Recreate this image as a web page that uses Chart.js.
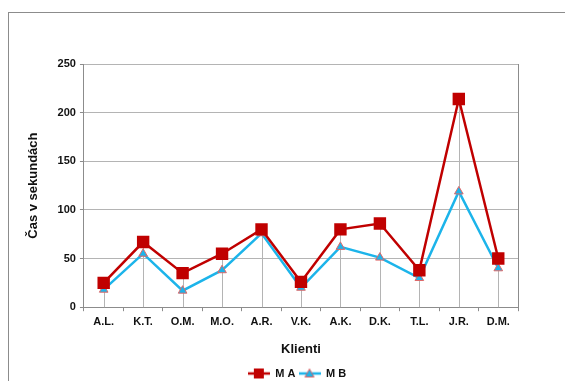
<!DOCTYPE html>
<html>
<head>
<meta charset="utf-8">
<script src="https://cdn.jsdelivr.net/npm/chart.js@4/dist/chart.umd.min.js"></script>
<style>
  html, body { margin: 0; padding: 0; background: #fff; }
  #wrap { position: relative; width: 565px; height: 381px; }
  #frame { position: absolute; left: 8px; top: 12px; width: 600px; height: 400px;
           border-left: 1px solid #8c8c8c; border-top: 1px solid #8c8c8c; }
  canvas { position: absolute; left: 0; top: 0; }
</style>
</head>
<body>
<div id="wrap">
  <div id="frame"></div>
  <canvas id="chart_times" width="565" height="381"></canvas>
</div>
<script>
var klienti = ['A.L.', 'K.T.', 'O.M.', 'M.O.', 'A.R.', 'V.K.', 'A.K.', 'D.K.', 'T.L.', 'J.R.', 'D.M.'];
var casA = [25, 67, 35, 55, 80, 26, 80, 86, 38, 214, 50];
var casB = [18, 55, 17, 38, 76, 20, 62, 51, 30, 119, 40];
var yTicks = [0, 50, 100, 150, 200, 250];

var red = '#c00000';
var blue = '#1cb4ea';

// small line+marker pictures for the legend entries
function legendIcon(kind) {
    var c = document.createElement('canvas');
    c.width = 22; c.height = 12;
    var g = c.getContext('2d');
    g.strokeStyle = kind === 'A' ? red : blue;
    g.lineWidth = 2.5;
    g.beginPath(); g.moveTo(0, 6); g.lineTo(22, 6); g.stroke();
    if (kind === 'A') {
        g.fillStyle = red;
        g.fillRect(6, 1, 10, 10);
    } else {
        g.fillStyle = blue;
        g.strokeStyle = '#e06060';
        g.lineWidth = 1;
        g.beginPath(); g.moveTo(11, 1.5); g.lineTo(15.5, 9.5); g.lineTo(6.5, 9.5); g.closePath();
        g.fill(); g.stroke();
    }
    return c;
}

// vertical drop lines from the highest point of each category down to the axis
var dropLines = {
    id: 'dropLines',
    beforeDatasetsDraw: function (chart) {
        var x = chart.scales.x, y = chart.scales.y, ctx = chart.ctx;
        ctx.save();
        ctx.strokeStyle = '#b4b4b4';
        ctx.lineWidth = 1;
        klienti.forEach(function (k, i) {
            var px = Math.round(x.getPixelForValue(i)) + 0.5;
            var top = y.getPixelForValue(Math.max(casA[i], casB[i]));
            ctx.beginPath();
            ctx.moveTo(px, top);
            ctx.lineTo(px, y.getPixelForValue(0));
            ctx.stroke();
        });
        ctx.restore();
    }
};

// legend sits a little right of centre
var legendShift = {
    id: 'legendShift',
    afterUpdate: function (chart) {
        var lg = chart.legend;
        if (!lg) return;
        lg.left += 25;
        lg.right += 25;
        lg.adjustHitBoxes();
    }
};

Chart.defaults.font.family = "'Liberation Sans', Arial, sans-serif";
Chart.defaults.color = '#111';

var ctx = document.getElementById('chart_times');
var lineChart = new Chart(ctx, {
    type: 'line',
    data: {
        labels: klienti,
        datasets: [{
            label: 'M A',
            data: casA,
            borderColor: red,
            backgroundColor: red,
            borderWidth: 2.5,
            pointStyle: 'rect',
            pointRadius: 7,
            pointBorderColor: red,
            pointBackgroundColor: red,
            tension: 0,
            clip: false
        }, {
            label: 'M B',
            data: casB,
            borderColor: blue,
            backgroundColor: blue,
            borderWidth: 2.5,
            pointStyle: 'triangle',
            pointRadius: 5,
            pointBorderWidth: 1,
            pointBorderColor: '#e06868',
            pointBackgroundColor: blue,
            tension: 0,
            clip: false
        }]
    },
    options: {
        responsive: false,
        animation: false,
        layout: { padding: { left: 26, right: 47, top: 64, bottom: -8 } },
        plugins: {
            tooltip: { enabled: false },
            legend: {
                display: true,
                position: 'bottom',
                labels: {
                    usePointStyle: true,
                    pointStyleWidth: 22,
                    boxHeight: 12,
                    padding: 3,
                    font: { size: 11, weight: 'bold' },
                    generateLabels: function (chart) {
                        return chart.data.datasets.map(function (ds, i) {
                            return {
                                text: ds.label,
                                datasetIndex: i,
                                pointStyle: legendIcon(i === 0 ? 'A' : 'B'),
                                fontColor: '#111',
                                lineWidth: 0,
                                strokeStyle: 'rgba(0,0,0,0)',
                                fillStyle: 'rgba(0,0,0,0)'
                            };
                        });
                    }
                }
            }
        },
        scales: {
            x: {
                offset: true,
                grid: {
                    offset: true,
                    drawOnChartArea: false,
                    drawTicks: true,
                    tickLength: 4,
                    color: '#8c8c8c'
                },
                border: { color: '#8c8c8c', width: 1 },
                ticks: { font: { size: 11, weight: 'bold' }, padding: 4, maxRotation: 0, autoSkip: false },
                title: {
                    display: true,
                    text: 'Klienti',
                    font: { size: 13, weight: 'bold' },
                    padding: { top: 9, bottom: 8 }
                }
            },
            y: {
                min: 0,
                max: 250,
                afterBuildTicks: function (axis) {
                    axis.ticks = yTicks.map(function (v) { return { value: v }; });
                },
                grid: {
                    color: '#b4b4b4',
                    tickLength: 4,
                    tickColor: '#8c8c8c'
                },
                border: { color: '#8c8c8c', width: 1 },
                ticks: { font: { size: 11, weight: 'bold' }, padding: 4 },
                title: {
                    display: true,
                    text: 'Čas v sekundách',
                    font: { size: 13, weight: 'bold' },
                    padding: { top: 0, bottom: 12 }
                }
            },
            yRight: {
                position: 'right',
                min: 0,
                max: 250,
                grid: { drawOnChartArea: false, drawTicks: false },
                border: { color: '#8c8c8c', width: 1 },
                ticks: { display: false }
            }
        }
    },
    plugins: [dropLines, legendShift]
});
</script>
</body>
</html>
